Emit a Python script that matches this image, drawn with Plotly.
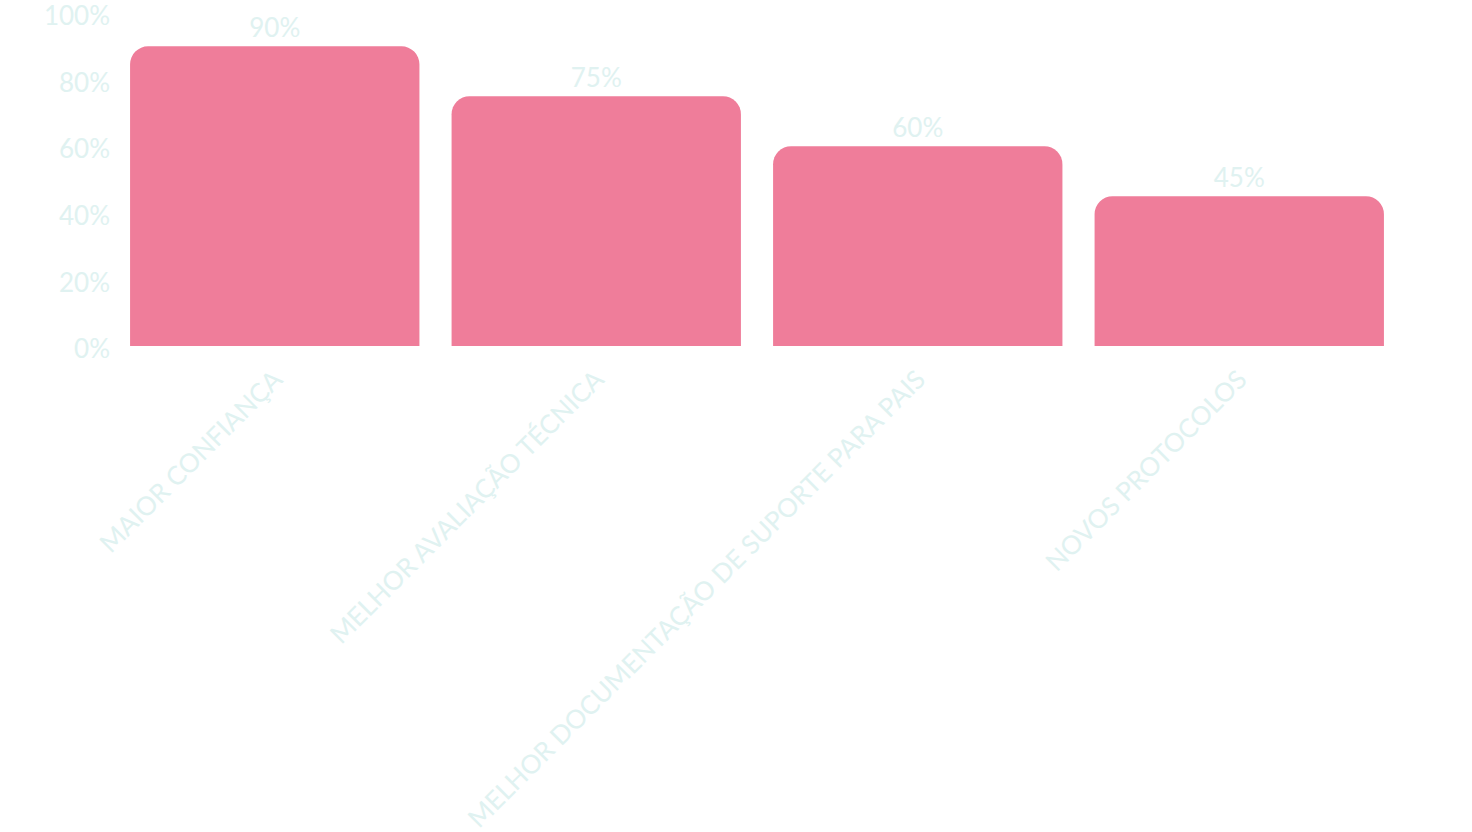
import plotly.graph_objects as go

categories = ["MAIOR CONFIANÇA", "MELHOR AVALIAÇÃO TÉCNICA",
              "MELHOR DOCUMENTAÇÃO DE SUPORTE PARA PAIS", "NOVOS PROTOCOLOS"]
values = [90, 75, 60, 45]
value_labels = ["90%", "75%", "60%", "45%"]
y_ticks = [0, 20, 40, 60, 80, 100]
y_tick_labels = ["0%", "20%", "40%", "60%", "80%", "100%"]

text_color = "#e0f2f1"
bar_color = "#ef7d9a"
font_family = "Lato, Open Sans, sans-serif"

fig = go.Figure(go.Bar(
    x=categories, y=values, text=value_labels, textposition="outside",
    marker=dict(color=bar_color, line=dict(width=0)),
    textfont=dict(color=text_color, size=26, family=font_family),
    cliponaxis=False,
))
fig.update_layout(
    width=1472, height=832,
    margin=dict(l=114, r=72, t=13, b=486),
    paper_bgcolor="white", plot_bgcolor="white",
    bargap=0.1, barcornerradius=18,
    showlegend=False,
    font=dict(family=font_family, color=text_color, size=26),
)
fig.update_xaxes(tickangle=-45, showgrid=False, showline=False, zeroline=False,
                 automargin=False, ticklabelstandoff=12,
                 tickfont=dict(size=26, color=text_color))
fig.update_yaxes(range=[0, 100], tickvals=y_ticks, ticktext=y_tick_labels,
                 showgrid=False, zeroline=False, showline=False, automargin=False,
                 ticklabeloverflow="allow", ticklabelstandoff=3, ticklabelshift=3,
                 tickfont=dict(size=26, color=text_color))
fig.write_html("out.html",
               config={"displayModeBar": False},
               post_script="document.body.style.margin='0';document.body.style.overflow='hidden';")
